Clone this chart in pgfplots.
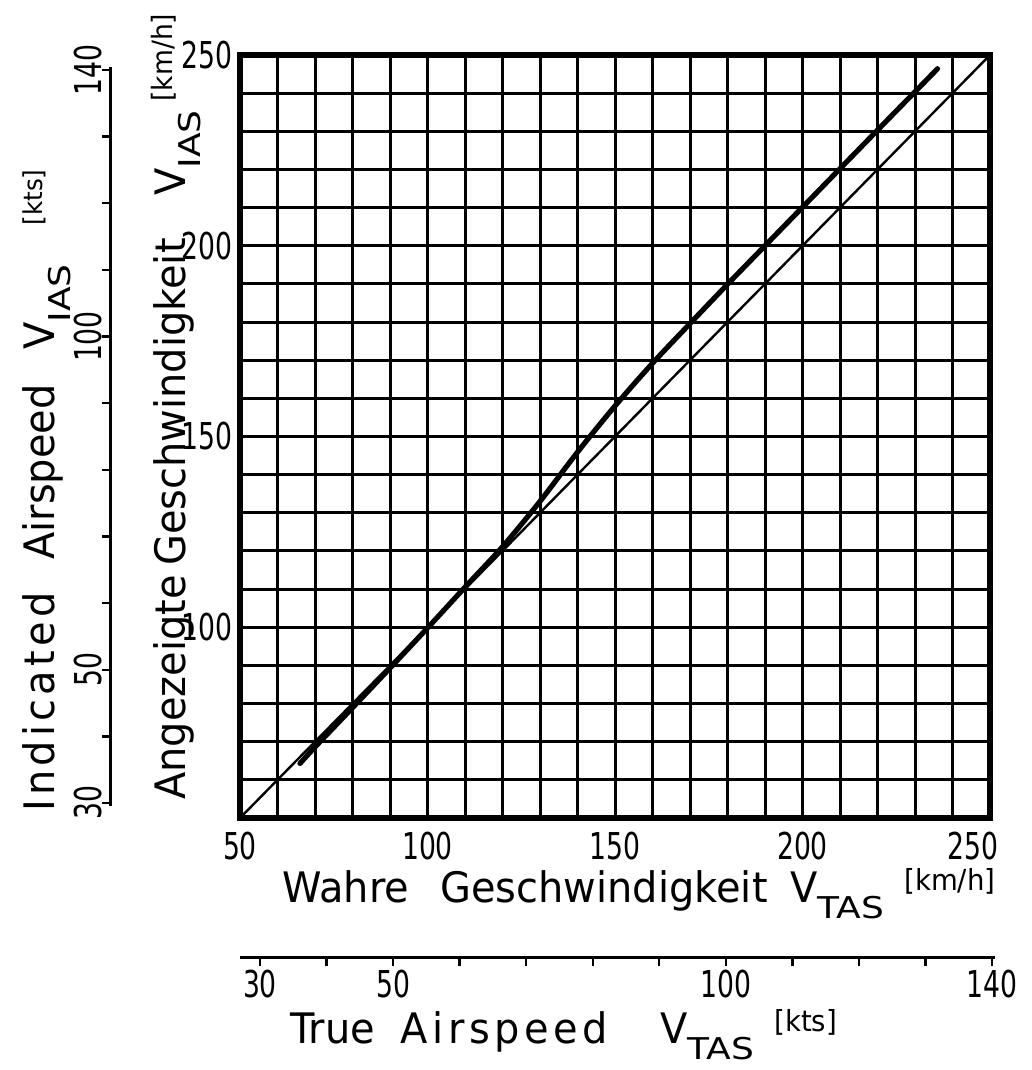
\documentclass[border=0pt]{standalone}
\usepackage{pgfplots}
\pgfplotsset{compat=1.18}
\usepackage{fontspec}
\setmainfont{DejaVu Sans}
\newfontfamily\tickfam{DejaVu Sans}[FakeStretch=0.72]
\newfontfamily\titlefam{DejaVu Sans}[FakeStretch=0.95]
\newfontfamily\subfam{DejaVu Sans}[FakeStretch=1.2]
\newcommand\tickfont{\tickfam\fontsize{18.5}{18.5}\selectfont}
\newcommand\titlefont{\titlefam\fontsize{21}{21}\selectfont}
\newcommand\Vsub[1]{V\raisebox{-0.37em}{\subfam\fontsize{15}{15}\selectfont #1}}
\newcommand\unit[2][14.5]{\raisebox{0.3em}{\fontsize{#1}{#1}\selectfont #2}}
\newcommand\wide[2]{{\addfontfeatures{LetterSpace=#1}#2}}
\begin{document}
\begin{tikzpicture}
\path[use as bounding box] (0,0) rectangle (516pt,535pt);
% main km/h chart
\begin{axis}[
  at={(120pt,126pt)}, anchor=south west,
  scale only axis, width=375pt, height=381.5pt,
  xmin=50, xmax=250, ymin=50, ymax=250,
  xtick={50,100,150,200,250},
  xticklabels={50,100,150,200,{250\hspace*{17pt}}},
  ytick={100,150,200,250},
  minor xtick={60,70,...,240},
  minor ytick={60,70,...,240},
  grid=both,
  major grid style={black,line width=1.5pt},
  minor grid style={black,line width=1.5pt},
  major tick length=0pt, minor tick length=0pt,
  axis line style={black,line width=2.8pt},
  /pgf/number format/assume math mode=true,
  ticklabel style={font=\tickfont},
  xticklabel style={anchor=north, inner sep=0pt, yshift=-7pt},
  yticklabel style={anchor=east, inner sep=0pt, xshift=-3.5pt},
]
\addplot[black, line width=1.2pt] coordinates {(50,50) (250,250)};
\addplot[black, line width=2.6pt, line cap=round, smooth] coordinates {
(66,64.3) (70,68.6) (80,78.9) (90,89.3) (100,99.8) (110,110.5) (120,121.1)
(130,133.0) (140,145.9) (150,158.0) (160,169.2) (170,179.6) (180,189.9)
(190,200.0) (200,210.1) (210,220.2) (220,230.3) (230,240.35) (236,246.4)};
\end{axis}
% left kts axis
\begin{axis}[
  at={(55pt,131.85pt)}, anchor=south west,
  scale only axis, width=1pt, height=369.8pt,
  xmin=0, xmax=1, ymin=29.5, ymax=140.5,
  hide x axis, axis y line*=left,
  ytick={30,40,...,140}, yticklabels={30,,50,,,,,100,,,,140},
  tick align=outside, major tick length=4pt,
  tick style={black,line width=1.2pt},
  axis line style={black,line width=1.5pt},
  yticklabel style={rotate=90, anchor=south, font=\tickfont, inner sep=0pt},
]
\addplot[draw=none] coordinates {(0,30) (1,140)};
\end{axis}
% bottom kts axis
\begin{axis}[
  at={(120pt,56pt)}, anchor=south west,
  scale only axis, width=377.5pt, height=1pt,
  ymin=0, ymax=1, xmin=27, xmax=140.45,
  hide y axis, axis x line*=bottom,
  xtick={30,40,...,140}, xticklabels={30,,50,,,,,100,,,,140},
  tick align=outside, major tick length=4pt,
  tick style={black,line width=1.2pt},
  axis line style={black,line width=1.5pt},
  xticklabel style={anchor=north, font=\tickfont, inner sep=0pt, yshift=-2pt},
]
\addplot[draw=none] coordinates {(30,0) (140,1)};
\end{axis}
\tikzset{ttl/.style={anchor=base west, font=\titlefont, inner sep=0pt}}
% bottom km/h title
\node[ttl] at (141pt,83.5pt) {Wahre};
\node[ttl] at (220pt,83.5pt) {Geschwindigkeit};
\node[ttl] at (395pt,83.5pt) {\Vsub{TAS}};
\node[ttl] at (452pt,83.5pt) {\unit{[km/h]}};
% bottom kts title
\node[ttl] at (145pt,13pt) {True};
\node[ttl] at (200pt,13pt) {\wide{11}{Airspeed}};
\node[ttl] at (330pt,13pt) {\Vsub{TAS}};
\node[ttl] at (387pt,13pt) {\unit{[kts]}};
% left km/h title
\node[ttl,rotate=90] at (92.5pt,135pt) {Angezeigte};
\node[ttl,rotate=90] at (92.5pt,252pt) {Geschwindigkeit};
\node[ttl,rotate=90] at (92.5pt,437pt) {\Vsub{IAS}};
\node[ttl,rotate=90] at (92.5pt,484pt) {\unit[14]{[km/h]}};
% left kts title
\node[ttl,rotate=90] at (27.5pt,129pt) {\wide{10}{Indicated}};
\node[ttl,rotate=90] at (27.5pt,255pt) {Airspeed};
\node[ttl,rotate=90] at (27.5pt,360pt) {\Vsub{IAS}};
\node[ttl,rotate=90] at (27.5pt,422pt) {\unit[13]{[kts]}};
\end{tikzpicture}
\end{document}
